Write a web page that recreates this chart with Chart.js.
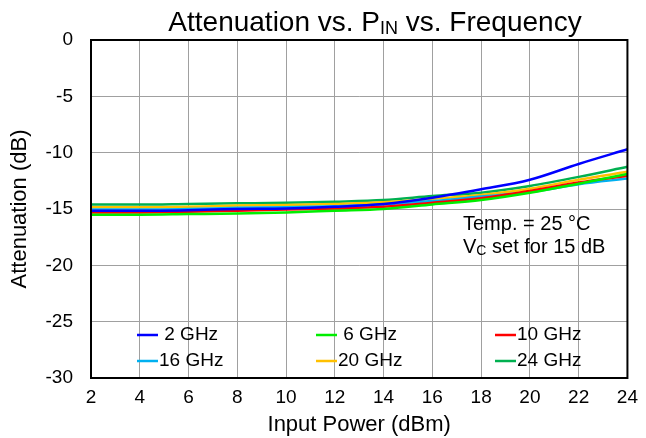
<!DOCTYPE html>
<html>
<head>
<meta charset="utf-8">
<script src="https://cdn.jsdelivr.net/npm/chart.js@4"></script>
<style>
  html, body { margin: 0; padding: 0; background: #fff; }
  #wrap { width: 646px; height: 438px; }
</style>
</head>
<body>
<div id="wrap"><canvas id="attChart"></canvas></div>
<script>
// input power (dBm)
var pin = [2, 4, 6, 8, 10, 12, 14, 16, 18, 20, 22, 24];

// attenuation (dB) per frequency
var att2 = [-15.15, -15.15, -15.1, -15.0, -14.95, -14.8, -14.55, -14.0, -13.25, -12.4, -11.0, -9.7];
var att6 = [-15.5, -15.5, -15.45, -15.4, -15.3, -15.15, -15.0, -14.6, -14.2, -13.55, -12.75, -11.9];
var att10 = [-15.3, -15.3, -15.25, -15.15, -15.05, -14.95, -14.8, -14.45, -14.05, -13.4, -12.65, -12.05];
var att16 = [-15.05, -15.05, -15.0, -14.9, -14.85, -14.75, -14.6, -14.3, -13.9, -13.5, -12.8, -12.3];
var att20 = [-14.85, -14.85, -14.8, -14.7, -14.65, -14.55, -14.4, -14.1, -13.75, -13.2, -12.4, -11.7];
var att24 = [-14.6, -14.6, -14.55, -14.5, -14.45, -14.35, -14.2, -13.85, -13.55, -12.95, -12.15, -11.25];

var seriesNames = ["2 GHz", "6 GHz", "10 GHz", "16 GHz", "20 GHz", "24 GHz"];
var seriesData = [att2, att6, att10, att16, att20, att24];
var seriesColors = ['#0000FF', '#00EE00', '#FF0000', '#00B0F0', '#FFC000', '#00B050'];

var FONT = "'Liberation Sans', Arial, sans-serif";

function points(arr) {
    return arr.map(function (v, i) { return { x: pin[i], y: v }; });
}

var datasets = seriesNames.map(function (name, i) {
    return {
        label: name,
        data: points(seriesData[i]),
        borderColor: seriesColors[i],
        backgroundColor: seriesColors[i],
        borderWidth: 2.5,
        pointRadius: 0,
        cubicInterpolationMode: 'monotone',
        fill: false
    };
});

// title, legend, note and frame drawn on the canvas
var extras = {
    id: 'extras',
    afterDraw: function (chart) {
        var ctx = chart.ctx;
        var area = chart.chartArea;
        ctx.save();

        // frame
        ctx.strokeStyle = '#000';
        ctx.lineWidth = 2;
        ctx.strokeRect(area.left, area.top, area.right - area.left, area.bottom - area.top);

        // title with subscript
        ctx.fillStyle = '#000';
        ctx.textBaseline = 'alphabetic';
        ctx.textAlign = 'left';
        var big = "28px " + FONT, small = "18px " + FONT;
        ctx.font = big;
        var t1 = "Attenuation vs. P", t3 = " vs. Frequency";
        var w1 = ctx.measureText(t1).width, w3 = ctx.measureText(t3).width;
        ctx.font = small;
        var w2 = ctx.measureText("IN").width;
        var x0 = 375 - (w1 + w2 + w3) / 2, base = 31;
        ctx.font = big;
        ctx.fillText(t1, x0, base);
        ctx.font = small;
        ctx.fillText("IN", x0 + w1, base + 3);
        ctx.font = big;
        ctx.fillText(t3, x0 + w1 + w2, base);

        // note
        ctx.font = "20px " + FONT;
        ctx.textBaseline = 'middle';
        ctx.fillText("Temp. = 25 \u00B0C", 463, 224);
        ctx.fillText("V", 463, 247);
        var wv = ctx.measureText("V").width;
        ctx.font = "14px " + FONT;
        ctx.fillText("C", 463 + wv, 251);
        var wc = ctx.measureText("C").width;
        ctx.font = "20px " + FONT;
        ctx.fillText(" set for 15 dB", 463 + wv + wc, 247);

        // legend, 2 rows x 3 columns
        ctx.font = "19px " + FONT;
        var colX = [137, 316, 495];
        var rowY = [335, 361];
        ctx.lineWidth = 2.5;
        chart.data.datasets.forEach(function (ds, i) {
            var cx = colX[i % 3], cy = rowY[Math.floor(i / 3)];
            ctx.strokeStyle = ds.borderColor;
            ctx.beginPath();
            ctx.moveTo(cx, cy);
            ctx.lineTo(cx + 21, cy);
            ctx.stroke();
            ctx.fillStyle = '#000';
            var label = ds.label.length < 6 ? ' ' + ds.label : ds.label;
            ctx.fillText(label, cx + 22, cy);
        });
        ctx.restore();
    }
};

var ctx = document.getElementById('attChart').getContext('2d');
var attChart = new Chart(ctx, {
    type: 'line',
    data: { datasets: datasets },
    options: {
        responsive: true,
        maintainAspectRatio: false,
        animation: false,
        layout: { padding: { top: 40, right: 14, left: 0, bottom: 0 } },
        plugins: {
            legend: { display: false },
            title: { display: false },
            tooltip: { enabled: false }
        },
        scales: {
            x: {
                type: 'linear',
                min: 2,
                max: 24,
                afterFit: function (scale) { scale.height = 60; },
                ticks: { stepSize: 2, color: '#000', padding: 8, font: { family: FONT, size: 19 } },
                grid: { color: '#A0A0A0', lineWidth: 1, drawTicks: false },
                border: { display: false },
                title: { display: true, text: 'Input Power (dBm)', color: '#000', padding: 0, font: { family: FONT, size: 22 } }
            },
            y: {
                min: -30,
                max: 0,
                afterFit: function (scale) { scale.width = 91; },
                ticks: { stepSize: 5, color: '#000', padding: 18, font: { family: FONT, size: 19 } },
                grid: { color: '#A0A0A0', lineWidth: 1, drawTicks: false },
                border: { display: false },
                title: { display: true, text: 'Attenuation (dB)', color: '#000', padding: 7, font: { family: FONT, size: 22 } }
            }
        }
    },
    plugins: [extras]
});
</script>
</body>
</html>
